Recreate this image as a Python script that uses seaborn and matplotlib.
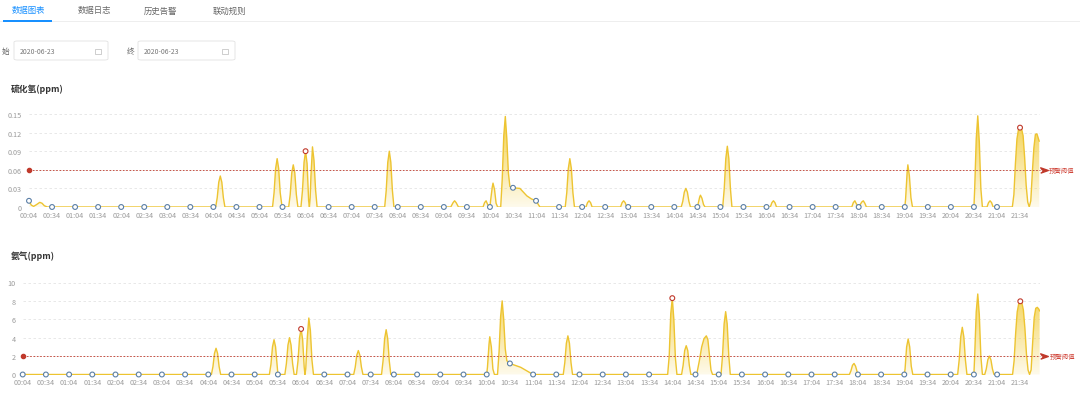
import numpy as np
import pandas as pd
import matplotlib
matplotlib.use("Agg")
import matplotlib.pyplot as plt
import seaborn as sns
from matplotlib.patches import FancyBboxPatch, PathPatch, Rectangle
from matplotlib.colors import to_rgb

# ---------------- data ----------------
tabs = ["数据图表", "数据日志", "历史告警", "联动规则"]
start_label = "始"
end_label = "终"
start_date = "2020-06-23"
end_date = "2020-06-23"
titles = ["硫化氢(ppm)", "氨气(ppm)"]
threshold_label = "预警阈值"

x_tick_labels = ["00:04", "00:34", "01:04", "01:34", "02:04", "02:34", "03:04", "03:34",
                 "04:04", "04:34", "05:04", "05:34", "06:04", "06:34", "07:04", "07:34",
                 "08:04", "08:34", "09:04", "09:34", "10:04", "10:34", "11:04", "11:34",
                 "12:04", "12:34", "13:04", "13:34", "14:04", "14:34", "15:04", "15:34",
                 "16:04", "16:34", "17:04", "17:34", "18:04", "18:34", "19:04", "19:34",
                 "20:04", "20:34", "21:04", "21:34"]

h2s_yticks = [0, 0.03, 0.06, 0.09, 0.12, 0.15]
h2s_ytick_labels = ["0", "0.03", "0.06", "0.09", "0.12", "0.15"]
h2s_threshold = 0.06

nh3_yticks = [0, 2, 4, 6, 8, 10]
nh3_ytick_labels = ["0", "2", "4", "6", "8", "10"]
nh3_threshold = 2

h2s_time = [
    "00:04", "00:07", "00:10", "00:14", "00:18", "00:21", "00:24", "00:28", "00:34", "01:04",
    "01:34", "02:04", "02:34", "03:04", "03:34", "04:04",
    "04:07", "04:09", "04:11", "04:13", "04:15", "04:17", "04:19", "04:34", "05:04",
    "05:21", "05:23", "05:25", "05:27", "05:29", "05:31", "05:33", "05:34",
    "05:42", "05:44", "05:46", "05:48", "05:50", "05:52", "05:54",
    "05:58", "06:00", "06:02", "06:04", "06:06", "06:08", "06:09", "06:10", "06:11", "06:13",
    "06:15", "06:17", "06:19", "06:34", "07:04", "07:34",
    "07:47", "07:49", "07:51", "07:53", "07:55", "07:57", "07:59", "08:04", "08:34", "09:04",
    "09:13", "09:16", "09:18", "09:20", "09:23", "09:34",
    "09:55", "09:57", "09:59", "10:01", "10:04", "10:05", "10:07", "10:08", "10:10", "10:12",
    "10:14", "10:18", "10:20", "10:22", "10:24", "10:26", "10:28", "10:30", "10:34", "10:43",
    "10:52", "10:58", "11:04", "11:09", "11:34",
    "11:42", "11:44", "11:46", "11:48", "11:50", "11:52", "11:54", "12:04",
    "12:09", "12:11", "12:13", "12:15", "12:17", "12:34", "12:54", "12:56", "12:58", "13:00",
    "13:02", "13:04", "13:34", "14:04",
    "14:13", "14:15", "14:17", "14:19", "14:21", "14:23", "14:25", "14:34", "14:35", "14:37",
    "14:38", "14:40", "14:42", "14:44", "15:04",
    "15:07", "15:09", "15:11", "15:13", "15:15", "15:17", "15:19", "15:34", "16:04",
    "16:09", "16:11", "16:13", "16:15", "16:17", "16:34", "17:04", "17:34",
    "17:55", "17:57", "17:59", "18:01", "18:04", "18:06", "18:08", "18:10", "18:12", "18:14",
    "18:34",
    "19:04", "19:05", "19:07", "19:08", "19:10", "19:12", "19:14", "19:34", "20:04",
    "20:34", "20:35", "20:37", "20:39", "20:41", "20:43", "20:45",
    "20:51", "20:53", "20:55", "20:57", "20:59", "21:04",
    "21:24", "21:26", "21:28", "21:30", "21:32", "21:34", "21:36", "21:38", "21:40", "21:42",
    "21:44", "21:46", "21:48", "21:50", "21:52", "21:54", "21:56", "21:58", "21:59"]
h2s_value = [
    0.010, 0.003, 0.001, 0.004, 0.0075, 0.006, 0.002, 0, 0, 0,
    0, 0, 0, 0, 0, 0,
    0, 0.015, 0.040, 0.050, 0.040, 0.015, 0, 0, 0,
    0, 0.023, 0.062, 0.078, 0.062, 0.023, 0.004, 0,
    0, 0.020, 0.055, 0.068, 0.055, 0.020, 0,
    0, 0.027, 0.072, 0.090, 0.070, 0.010, 0, 0.015, 0.050, 0.097,
    0.075, 0.028, 0, 0, 0, 0,
    0, 0.027, 0.072, 0.090, 0.072, 0.027, 0, 0, 0, 0,
    0, 0.007, 0.010, 0.007, 0, 0,
    0, 0.007, 0.010, 0.004, 0, 0.012, 0.032, 0.0385, 0.028, 0.006,
    0, 0, 0.045, 0.115, 0.146, 0.110, 0.055, 0.033, 0.031, 0.030,
    0.018, 0.013, 0.010, 0, 0,
    0, 0.023, 0.062, 0.078, 0.062, 0.023, 0, 0,
    0, 0.007, 0.010, 0.007, 0, 0, 0, 0.007, 0.010, 0.007,
    0, 0, 0, 0,
    0, 0.009, 0.024, 0.030, 0.024, 0.009, 0, 0, 0.005, 0.016,
    0.019, 0.014, 0.004, 0, 0,
    0, 0.030, 0.078, 0.098, 0.078, 0.030, 0, 0, 0,
    0, 0.007, 0.010, 0.007, 0, 0, 0, 0,
    0, 0.007, 0.010, 0.005, 0, 0.004, 0.008, 0.010, 0.006, 0,
    0,
    0, 0.012, 0.055, 0.068, 0.050, 0.015, 0, 0, 0,
    0, 0.030, 0.110, 0.147, 0.105, 0.030, 0,
    0, 0.007, 0.010, 0.007, 0, 0,
    0, 0.020, 0.070, 0.110, 0.125, 0.128, 0.126, 0.115, 0.080, 0.035,
    0.008, 0, 0.010, 0.055, 0.095, 0.117, 0.118, 0.110, 0.106]

nh3_time = [
    "00:04", "00:34", "01:04", "01:34", "02:04", "02:34", "03:04", "03:34", "04:04",
    "04:08", "04:10", "04:12", "04:14", "04:16", "04:18", "04:20", "04:34", "05:04",
    "05:23", "05:25", "05:27", "05:29", "05:31", "05:33", "05:34",
    "05:43", "05:45", "05:47", "05:49", "05:51", "05:53", "05:55",
    "05:58", "06:00", "06:02", "06:04", "06:06", "06:08", "06:09", "06:10", "06:12", "06:14",
    "06:16", "06:18", "06:20", "06:34", "07:04",
    "07:12", "07:14", "07:16", "07:18", "07:20", "07:22", "07:24", "07:34",
    "07:48", "07:50", "07:52", "07:54", "07:56", "07:58", "08:00", "08:04", "08:34", "09:04",
    "09:34",
    "10:04", "10:05", "10:07", "10:08", "10:10", "10:12", "10:14", "10:18", "10:20", "10:22",
    "10:24", "10:26", "10:28", "10:30", "10:34", "10:48", "11:04", "11:34",
    "11:43", "11:45", "11:47", "11:49", "11:51", "11:53", "11:55", "12:04", "12:34", "13:04",
    "13:34",
    "13:58", "14:00", "14:02", "14:04", "14:06", "14:08", "14:10",
    "14:16", "14:18", "14:20", "14:22", "14:24", "14:26", "14:28", "14:34", "14:36", "14:39",
    "14:42", "14:45", "14:48", "14:50", "14:52", "14:54", "14:56", "15:04",
    "15:07", "15:09", "15:11", "15:13", "15:15", "15:17", "15:19", "15:34", "16:04", "16:34",
    "17:04", "17:34",
    "17:53", "17:55", "17:57", "17:59", "18:01", "18:03", "18:04", "18:34",
    "19:04", "19:05", "19:07", "19:09", "19:11", "19:13", "19:15", "19:34", "20:04",
    "20:13", "20:15", "20:17", "20:19", "20:21", "20:23", "20:25",
    "20:34", "20:35", "20:37", "20:39", "20:41", "20:43", "20:45",
    "20:48", "20:50", "20:52", "20:54", "20:56", "20:58", "21:00", "21:04",
    "21:24", "21:26", "21:28", "21:30", "21:32", "21:34", "21:36", "21:38", "21:40", "21:42",
    "21:44", "21:46", "21:48", "21:50", "21:52", "21:54", "21:56", "21:58", "21:59"]
nh3_value = [
    0, 0, 0, 0, 0, 0, 0, 0, 0,
    0, 0.85, 2.3, 2.85, 2.3, 0.85, 0, 0, 0,
    0, 1.1, 3.0, 3.78, 3.0, 1.0, 0,
    0, 1.2, 3.2, 4.0, 3.2, 1.2, 0,
    0, 1.5, 4.0, 4.95, 3.8, 0.8, 0, 0.6, 4.0, 6.14,
    4.8, 1.6, 0, 0, 0,
    0, 0.8, 2.1, 2.6, 2.1, 0.8, 0, 0,
    0, 1.5, 3.9, 4.87, 3.9, 1.5, 0, 0, 0, 0,
    0,
    0, 0.8, 3.3, 4.1, 3.0, 0.6, 0, 0, 2.5, 6.3,
    8.0, 6.0, 2.8, 1.5, 1.2, 0.78, 0, 0,
    0, 1.3, 3.4, 4.2, 3.4, 1.3, 0, 0, 0, 0,
    0,
    0, 2.0, 6.6, 8.3, 6.0, 1.8, 0,
    0, 1.0, 2.6, 3.13, 2.6, 1.0, 0, 0, 0.2, 1.5,
    3.0, 3.9, 4.2, 3.8, 2.2, 0.5, 0, 0,
    0, 2.1, 5.5, 6.83, 5.5, 2.1, 0, 0, 0, 0,
    0, 0,
    0, 0.4, 1.0, 1.2, 0.9, 0.3, 0, 0,
    0, 0.6, 3.0, 3.86, 3.0, 0.9, 0, 0, 0,
    0, 1.6, 4.1, 5.13, 4.1, 1.6, 0,
    0, 2.0, 6.8, 8.75, 6.5, 2.0, 0,
    0, 0.6, 1.6, 2.0, 1.6, 0.6, 0, 0,
    0, 1.5, 4.5, 6.8, 7.7, 7.96, 7.8, 7.0, 5.0, 2.2,
    0.5, 0, 0.5, 3.5, 6.2, 7.2, 7.3, 7.1, 6.9]

# ---------------- style ----------------
sns.set_theme(style="white")
plt.rcParams["font.family"] = ["Noto Sans CJK SC", "DejaVu Sans"]

W, H = 1080, 402
fig = plt.figure(figsize=(W / 100, H / 100), dpi=100)
fig.patch.set_facecolor("white")

def fx(x):
    return x / W

def fy(y):
    return 1 - y / H

def to_min(s):
    h, m = s.split(":")
    return int(h) * 60 + int(m)

LINE = "#EDC431"
FILL = "#F3CD3C"
MARK = "#5B7FA6"
RED = "#C0392B"
TICK = "#9a9a9a"

# ---------------- header (tabs, date pickers) ----------------
tab_x = [28, 94, 161, 229]
for i, (t, x) in enumerate(zip(tabs, tab_x)):
    fig.text(fx(x), fy(11), t, ha="center", va="center", fontsize=6,
             color="#1890ff" if i == 0 else "#666666")
fig.add_artist(Rectangle((0, fy(23)), 1, 0.6 / H, transform=fig.transFigure,
                         color="#eeeeee", lw=0))
fig.add_artist(Rectangle((fx(3), fy(22.5)), fx(49), 2 / H, transform=fig.transFigure,
                         color="#1890ff", lw=0))

for lab, lx, bx0, bx1, txt in [(start_label, 5, 14, 108, start_date),
                               (end_label, 131, 138, 235, end_date)]:
    fig.text(fx(lx), fy(52), lab, ha="center", va="center", fontsize=5.5, color="#666666")
    box = FancyBboxPatch((fx(bx0), fy(61)), fx(bx1 - bx0), 19 / H,
                         boxstyle="round,pad=0,rounding_size=0.003",
                         transform=fig.transFigure, facecolor="white",
                         edgecolor="#e2e2e2", lw=0.6)
    fig.add_artist(box)
    fig.text(fx(bx0 + 6), fy(52), txt, ha="left", va="center", fontsize=5, color="#777777")
    fig.add_artist(Rectangle((fx(bx1 - 13), fy(55)), fx(6), 5.5 / H,
                             transform=fig.transFigure, facecolor="none",
                             edgecolor="#bbbbbb", lw=0.5))

# ---------------- charts ----------------
x_ticks = [to_min(s) for s in x_tick_labels]

def draw_chart(ax_rect, title_xy, title, times, values, yticks, ylabels, thr, ymax):
    left, top, right, bottom = ax_rect
    ax = fig.add_axes([fx(left), fy(bottom), fx(right - left), (bottom - top) / H])
    ax.set_facecolor("none")
    df = pd.DataFrame({"t": [to_min(s) for s in times], "v": values})

    # gradient area
    poly = ax.fill_between(df["t"], df["v"], 0, color="none", lw=0)
    path = poly.get_paths()[0]
    patch = PathPatch(path, transform=ax.transData, facecolor="none", edgecolor="none")
    ax.add_patch(patch)
    n = 256
    rgba = np.zeros((n, 1, 4))
    rgba[..., :3] = to_rgb(FILL)
    rgba[:, 0, 3] = np.linspace(0.10, 0.95, n)
    im = ax.imshow(rgba, extent=[4, 1320, 0, ymax], origin="lower", aspect="auto",
                   zorder=1, interpolation="bilinear")
    im.set_clip_path(patch)

    sns.lineplot(data=df, x="t", y="v", ax=ax, color=LINE, lw=1.0, zorder=3,
                 estimator=None, sort=False)

    # symbols at the label positions
    mk = df[df["t"].isin(x_ticks)]
    edge = [RED if v > thr else MARK for v in mk["v"]]
    ax.scatter(mk["t"], mk["v"], s=12, facecolors="white", edgecolors=edge,
               linewidths=0.8, zorder=5, clip_on=False)

    # threshold line
    ax.plot([4, 1320], [thr, thr], color=RED, lw=0.6, ls=(0, (2, 2)), zorder=4,
            clip_on=False)
    ax.scatter([4], [thr], s=9, color=RED, zorder=6, clip_on=False)
    arrow = [(-1, -0.7), (1, 0), (-1, 0.7), (-0.45, 0)]
    ax.scatter([1325], [thr], s=30, marker=arrow, color=RED, zorder=6, clip_on=False)
    ax.annotate(threshold_label, xy=(1320, thr), xycoords="data",
                xytext=(6.5, 0), textcoords="offset points", ha="left", va="center",
                fontsize=4.6, color="#d0453a", annotation_clip=False)

    ax.set_xlim(4, 1320)
    ax.set_ylim(0, ymax)
    ax.set_xticks(x_ticks)
    ax.set_xticklabels(x_tick_labels)
    ax.set_yticks(yticks)
    ax.set_yticklabels(ylabels)
    ax.tick_params(axis="x", length=0, pad=2.6, labelsize=5.2, labelcolor=TICK)
    ax.tick_params(axis="y", length=0, pad=5, labelsize=5.2, labelcolor=TICK)
    ax.set_xlabel("")
    ax.set_ylabel("")
    ax.yaxis.grid(True, color="#e4e4e4", lw=0.6, ls=(0, (3, 3)))
    ax.xaxis.grid(False)
    for s in ax.spines.values():
        s.set_visible(False)
    fig.text(fx(title_xy[0]), fy(title_xy[1]), title, ha="left", va="center",
             fontsize=6.3, fontweight="bold", color="#333333")
    return ax

draw_chart((29, 115, 1040, 208), (11, 89), titles[0], h2s_time, h2s_value,
           h2s_yticks, h2s_ytick_labels, h2s_threshold, 0.15)
draw_chart((22.7, 283.5, 1040.4, 375.5), (11, 256), titles[1], nh3_time, nh3_value,
           nh3_yticks, nh3_ytick_labels, nh3_threshold, 10)

fig.savefig("out.png", dpi=100, facecolor="white")
